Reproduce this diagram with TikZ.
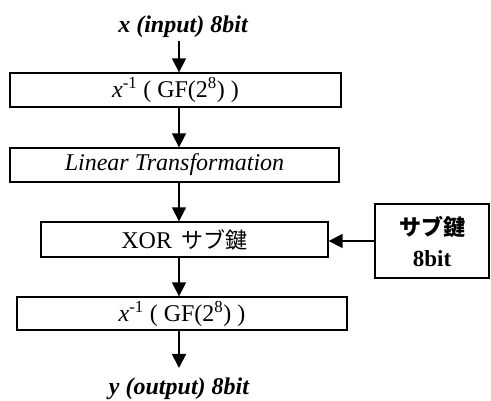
\documentclass[tikz,border=0pt]{standalone}
\usepackage{fontspec}
\setmainfont{Liberation Serif}
\newfontfamily\cjk{Noto Sans CJK JP}
\usetikzlibrary{arrows.meta}
\begin{document}
\begin{tikzpicture}[x=1pt,y=-1pt,
  box/.style={draw,line width=1.4pt,inner sep=0pt,font=\fontsize{24}{28}\selectfont},
  lbl/.style={inner sep=0pt,font=\fontsize{24}{28}\selectfont\bfseries\itshape},
  arr/.style={line width=1.8pt,-{Triangle[length=14pt,width=14pt]}}]
\useasboundingbox (0,0) rectangle (491,401);
\coordinate (ax) at (179,0);
\node[lbl,anchor=base] (in) at (183,33) {x (input) 8bit};
\node[box,minimum width=331pt,minimum height=34pt] (b1) at (175.5,90) {\textit{x}\textsuperscript{-1} ( GF(2\textsuperscript{8}) )};
\node[box,minimum width=329pt,minimum height=34pt] (b2) at (174.5,165) {\textit{Linear Transformation}};
\node[box,minimum width=287pt,minimum height=35pt] (b3) at (184.5,239.5) {XOR\hspace{0.4em}{\cjk\fontsize{22}{26}\selectfont サブ鍵}};
\node[box,minimum width=330pt,minimum height=33pt] (b4) at (182,313.5) {\textit{x}\textsuperscript{-1} ( GF(2\textsuperscript{8}) )};
\node[box,minimum width=114pt,minimum height=74pt,align=center,font=\fontsize{23}{31}\selectfont\bfseries] (key) at (432,241) {{\cjk\fontsize{22}{31}\selectfont サブ鍵}\\8bit};
\node[lbl,anchor=base] (out) at (179,395) {y (output) 8bit};
\coordinate (tip) at (179,368);
\draw[arr] (in.south -| ax) ++(0,3) -- (b1.north -| ax);
\draw[arr] (b1.south -| ax) -- (b2.north -| ax);
\draw[arr] (b2.south -| ax) -- (b3.north -| ax);
\draw[arr] (b3.south -| ax) -- (b4.north -| ax);
\draw[arr] (b4.south -| ax) -- (tip);
\draw[arr] (key.west) -- (key.west -| b3.east);
\end{tikzpicture}
\end{document}
